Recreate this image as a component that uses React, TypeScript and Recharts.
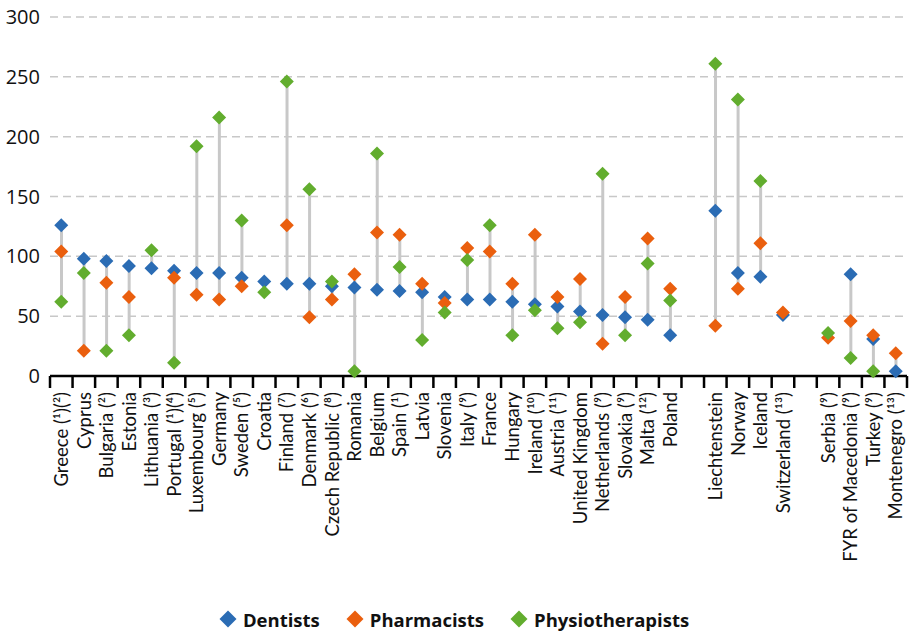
import React from "react";
import { ComposedChart, Bar, Line, XAxis, YAxis, CartesianGrid, Legend } from "recharts";

const categories = [
  "Greece (¹)(²)", "Cyprus", "Bulgaria (²)", "Estonia", "Lithuania (³)", "Portugal (¹)(⁴)",
  "Luxembourg (⁵)", "Germany", "Sweden (⁵)", "Croatia", "Finland (⁷)", "Denmark  (⁶)",
  "Czech Republic (⁸)", "Romania", "Belgium", "Spain (¹)", "Latvia", "Slovenia", "Italy (⁹)",
  "France", "Hungary", "Ireland (¹⁰)", "Austria (¹¹)", "United Kingdom", "Netherlands (⁹)",
  "Slovakia (⁹)", "Malta (¹²)", "Poland", "", "Liechtenstein", "Norway", "Iceland",
  "Switzerland (¹³)", "", "Serbia (⁹)", "FYR of Macedonia (⁹)", "Turkey (⁹)", "Montenegro (¹³)",
];

const dentists = [126, 98, 96, 92, 90, 88, 86, 86, 82, 79, 77, 77, 75, 74, 72, 71, 70, 66, 64, 64, 62, 60, 58, 54, 51, 49, 47, 34, null, 138, 86, 83, 51, null, null, 85, 31, 4];
const pharmacists = [104, 21, 78, 66, null, 82, 68, 64, 75, null, 126, 49, 64, 85, 120, 118, 77, 61, 107, 104, 77, 118, 66, 81, 27, 66, 115, 73, null, 42, 73, 111, 53, null, 32, 46, 34, 19];
const physiotherapists = [62, 86, 21, 34, 105, 11, 192, 216, 130, 70, 246, 156, 79, 4, 186, 91, 30, 53, 97, 126, 34, 55, 40, 45, 169, 34, 94, 63, null, 261, 231, 163, null, null, 36, 15, 4, null];

const yTicks = [0, 50, 100, 150, 200, 250, 300];

const COLORS = { dentists: "#2b6cb4", pharmacists: "#ea5f0e", physio: "#62ad2e" };

const W = 916;
const H = 635;
const MARGIN = { top: 17, right: 9, bottom: 0, left: 0 };
const YW = 50;
const HALF_BAND = (W - MARGIN.left - MARGIN.right - YW) / categories.length / 2;

const data = categories.map((name, i) => {
  const vals = [dentists[i], pharmacists[i], physiotherapists[i]].filter((v) => v !== null) as number[];
  return {
    name,
    dentists: dentists[i],
    pharmacists: pharmacists[i],
    physiotherapists: physiotherapists[i],
    range: vals.length ? [Math.min(...vals), Math.max(...vals)] : null,
  };
});

const FONT = "'Open Sans', sans-serif";
const LABEL_FONT = "Lato, 'Open Sans', sans-serif";

const makeDiamond = (color: string, key: string) => (props: any) => {
  const { cx, cy, payload, index } = props;
  if (payload == null || payload[key] == null || cx == null || cy == null || isNaN(cy)) {
    return <g key={`${key}-${index}`} />;
  }
  const s = 7;
  return (
    <polygon
      key={`${key}-${index}`}
      points={`${cx},${cy - s} ${cx + s},${cy} ${cx},${cy + s} ${cx - s},${cy}`}
      fill={color}
    />
  );
};

const XTick = (props: any) => {
  const { x, y, payload, index } = props;
  const last = index === categories.length - 1;
  return (
    <g>
      <line x1={x - HALF_BAND} x2={x - HALF_BAND} y1={y} y2={y + 12} stroke="#000" strokeWidth={2.5} />
      {last && <line x1={x + HALF_BAND} x2={x + HALF_BAND} y1={y} y2={y + 12} stroke="#000" strokeWidth={2.5} />}
      <text
        x={0}
        y={0}
        transform={`translate(${x},${y + 16}) rotate(-90)`}
        textAnchor="end"
        dy="0.36em"
        fontSize={18.5}
        fontFamily={LABEL_FONT}
        fill="#111"
      >
        {payload.value}
      </text>
    </g>
  );
};

const legendItems = [
  { label: "Dentists", color: COLORS.dentists },
  { label: "Pharmacists", color: COLORS.pharmacists },
  { label: "Physiotherapists", color: COLORS.physio },
];

const LegendContent = () => (
  <div
    style={{
      height: 40,
      paddingTop: 8,
      boxSizing: "border-box",
      display: "flex",
      justifyContent: "center",
      alignItems: "center",
      gap: 25,
      fontFamily: FONT,
      fontWeight: 700,
      fontSize: 18.5,
      color: "#111",
    }}
  >
    {legendItems.map((it) => (
      <div key={it.label} style={{ display: "flex", alignItems: "center", gap: 5 }}>
        <svg width={20} height={20}>
          <polygon points="10,1.5 18.5,10 10,18.5 1.5,10" fill={it.color} />
        </svg>
        <span>{it.label}</span>
      </div>
    ))}
  </div>
);

export default function App() {
  return (
    <div style={{ position: "absolute", left: 0, top: 0, width: W, height: H, background: "#fff" }}>
      <ComposedChart width={W} height={H} data={data} margin={MARGIN}>
        <CartesianGrid vertical={false} stroke="#c8c8c8" strokeDasharray="8 5" strokeWidth={1.5} />
        <XAxis
          dataKey="name"
          type="category"
          interval={0}
          height={219}
          tickLine={false}
          tickSize={0}
          tickMargin={0}
          axisLine={{ stroke: "#000", strokeWidth: 2.5 }}
          tick={<XTick />}
        />
        <YAxis
          width={YW}
          domain={[0, 300]}
          ticks={yTicks}
          axisLine={false}
          tickLine={false}
          tickSize={0}
          tickMargin={10}
          tick={{ fontSize: 20, fontFamily: FONT, fill: "#111" }}
        />
        <Legend verticalAlign="bottom" content={<LegendContent />} />
        <Bar dataKey="range" barSize={3} fill="#c8c8c8" isAnimationActive={false} legendType="none" />
        <Line dataKey="dentists" stroke="none" dot={makeDiamond(COLORS.dentists, "dentists")} activeDot={false} isAnimationActive={false} />
        <Line dataKey="pharmacists" stroke="none" dot={makeDiamond(COLORS.pharmacists, "pharmacists")} activeDot={false} isAnimationActive={false} />
        <Line dataKey="physiotherapists" stroke="none" dot={makeDiamond(COLORS.physio, "physiotherapists")} activeDot={false} isAnimationActive={false} />
      </ComposedChart>
    </div>
  );
}
